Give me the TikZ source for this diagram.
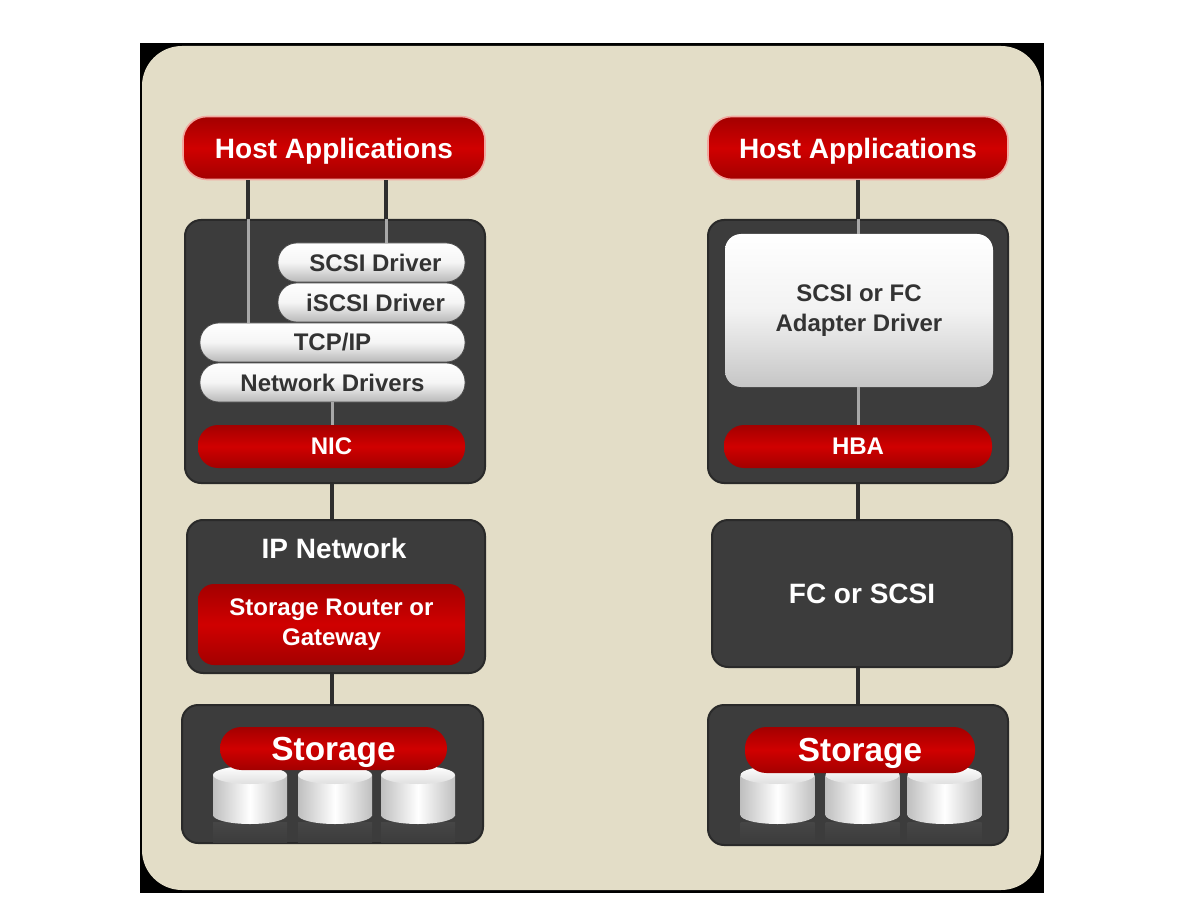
\documentclass[tikz,border=0pt]{standalone}
\usepackage{fontspec}
\setmainfont{Liberation Sans}
\definecolor{beige}{HTML}{E3DDC7}
\definecolor{darkbox}{HTML}{3C3C3C}
\definecolor{darkedge}{HTML}{2A2A2A}
\definecolor{redmid}{HTML}{D00000}
\definecolor{reddark}{HTML}{A30000}
\definecolor{linedark}{HTML}{2E2E2E}
\definecolor{linelight}{HTML}{A8A8A8}
\definecolor{pilltext}{HTML}{333333}
\definecolor{pinkedge}{HTML}{F2A8A0}
\tikzset{
  sz/.style 2 args={minimum width=#1*0.75pt, minimum height=#2*0.75pt, inner sep=0pt},
  redpill/.style={rounded corners=#1, top color=reddark, bottom color=reddark, middle color=redmid, text=white, align=center},
  graypill/.style={rounded corners=14pt, top color=white, bottom color=gray!55, middle color=gray!8, draw=gray!60!black, line width=0.6pt, text=pilltext, font=\bfseries\fontsize{18}{21}\selectfont},
  darkpanel/.style={rounded corners=12pt, fill=darkbox, draw=darkedge, line width=1.5pt, text=white},
  dk/.style={draw=linedark, line width=3pt},
  lt/.style={draw=linelight, line width=2.25pt},
  fbig/.style={font=\bfseries\fontsize{21}{24}\selectfont},
  fmid/.style={font=\bfseries\fontsize{18}{22}\selectfont},
  fstor/.style={font=\bfseries\fontsize{25}{28}\selectfont, text depth=0pt},
}
\begin{document}
\begin{tikzpicture}[x=0.75pt,y=-0.75pt]
\useasboundingbox (0,0) rectangle (1177,923);
\fill[white] (0,0) rectangle (1177,923);
\fill[black] (140,43) rectangle (1044,893);
\fill[beige, rounded corners=30pt] (142,46) rectangle (1041,890);

% ---------- left column ----------
\node[redpill=18pt, draw=pinkedge, line width=1.2pt, sz={302}{63}, fbig, text depth=0pt] (hostL) at (334,148) {Host Applications};
\node[darkpanel, sz={300}{263}] (boxL) at (335,351.5) {};
\node[graypill, sz={187}{39}] (scsi) at (371.5,262.5) {\hspace*{6pt}SCSI Driver};
\node[graypill, sz={187}{39}] (iscsi) at (371.5,302.5) {\hspace*{6pt}iSCSI Driver};
\node[graypill, sz={265}{39}] (tcp) at (332.5,342.5) {TCP/IP};
\node[graypill, sz={265}{39}] (netdrv) at (332.5,382.5) {Network Drivers};
\node[redpill=15pt, sz={267}{43}, fmid] (nic) at (331.5,446.5) {NIC};

\node[darkpanel, sz={298}{153}] (ipnet) at (336,596.5) {};
\node[fbig, text=white] (ipnetlbl) at (334,548) {IP Network};
\node[redpill=12pt, sz={267}{81}, fmid] (router) at (331.5,624.5) {Storage Router or\\Gateway};

\node[darkpanel, sz={301}{138}] (storL) at (332.5,774) {};
\foreach \cx in {250,335,418}{
  \shade[top color=gray!55!black, bottom color=darkbox] (\cx-37,822) rectangle (\cx+37,842);
  \shade[left color=gray!50, right color=gray!50, middle color=white] (\cx,815) ellipse [x radius=27.75pt, y radius=6.75pt];
  \shade[left color=gray!50, right color=gray!50, middle color=white] (\cx-37,775) rectangle (\cx+37,815);
  \shade[top color=white, bottom color=gray!25] (\cx,775) ellipse [x radius=27.75pt, y radius=6.75pt];
}
\node[redpill=16pt, sz={227}{43}, fstor] (storLpill) at (333.5,748.5) {Storage};

% ---------- right column ----------
\node[redpill=18pt, draw=pinkedge, line width=1.2pt, sz={300}{63}, fbig, text depth=0pt] (hostR) at (858,148) {Host Applications};
\node[darkpanel, sz={300}{263}] (boxR) at (858,351.5) {};
\node[rounded corners=12pt, top color=white, bottom color=gray!45, middle color=gray!10, text=pilltext, sz={268}{153}, font=\bfseries\fontsize{18}{22}\selectfont, align=center] (adapter) at (859,310.5) {SCSI or FC\\Adapter Driver};
\node[redpill=15pt, sz={268}{43}, fmid] (hba) at (858,446.5) {HBA};

\node[darkpanel, sz={300}{147}, fbig] (fc) at (862,593.5) {FC or SCSI};

\node[darkpanel, sz={300}{140}] (storR) at (858,775) {};
\foreach \cx in {777.5,862.5,944.5}{
  \shade[top color=gray!55!black, bottom color=darkbox] (\cx-37,822) rectangle (\cx+37,842);
  \shade[left color=gray!50, right color=gray!50, middle color=white] (\cx,815) ellipse [x radius=27.75pt, y radius=6.75pt];
  \shade[left color=gray!50, right color=gray!50, middle color=white] (\cx-37,775) rectangle (\cx+37,815);
  \shade[top color=white, bottom color=gray!25] (\cx,775) ellipse [x radius=27.75pt, y radius=6.75pt];
}
\node[redpill=16pt, sz={230}{46}, fstor] (storRpill) at (860,750) {Storage};

% ---------- connectors ----------
\draw[dk] (hostL.south -| 248,0) -- (boxL.north -| 248,0);
\draw[lt] (boxL.north -| 248,0) -- (tcp.north -| 248,0);
\draw[dk] (hostL.south -| 386,0) -- (boxL.north -| 386,0);
\draw[lt] (boxL.north -| 386,0) -- (scsi.north -| 386,0);
\draw[lt] (netdrv.south) -- (nic.north -| netdrv.south);
\draw[dk] (boxL.south -| nic.south) -- (ipnet.north -| nic.south);
\draw[dk] (ipnet.south -| nic.south) -- (storL.north -| nic.south);

\draw[dk] (hostR.south) -- (boxR.north);
\draw[lt] (boxR.north) -- (adapter.north -| boxR.north);
\draw[lt] (adapter.south -| boxR.north) -- (hba.north);
\draw[dk] (boxR.south) -- (fc.north -| boxR.south);
\draw[dk] (fc.south -| boxR.south) -- (storR.north);
\end{tikzpicture}
\end{document}
